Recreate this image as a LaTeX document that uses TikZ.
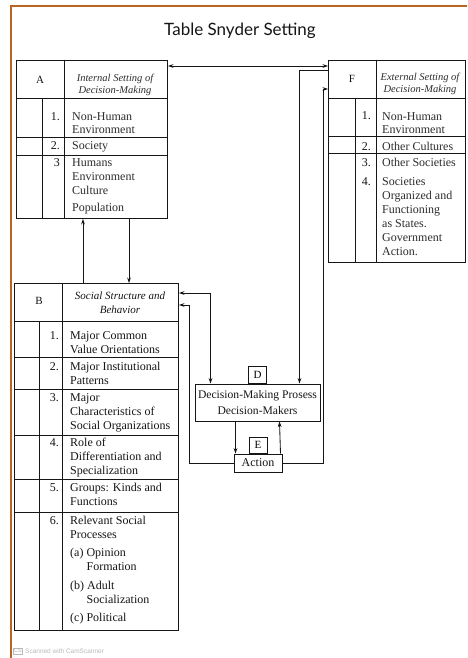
\documentclass[tikz,border=0pt]{standalone}
\usepackage{fontspec}
\setmainfont{Liberation Serif}
\newfontfamily\titlefont{Lato}
\newfontfamily\wmfont{Liberation Sans}
\usetikzlibrary{arrows.meta,calc}
\definecolor{frameorange}{RGB}{190,100,35}
\definecolor{ink}{RGB}{22,22,22}
\definecolor{lightink}{RGB}{45,45,45}
\begin{document}
\begin{tikzpicture}[x=1pt,y=-1pt,
  >={Stealth[length=5.5pt,width=3.8pt]},
  box/.style={draw=ink, line width=1pt, inner sep=0, anchor=north west},
  grid/.style={draw=ink, line width=0.85pt},
  conn/.style={draw=ink, line width=0.85pt},
  body/.style={font=\fontsize{12}{14}\selectfont, inner sep=0, align=left, anchor=north west, text=ink},
  bodyl/.style={body, text=lightink},
  num/.style={font=\fontsize{12}{14}\selectfont, inner sep=0, anchor=base east, text=ink},
  head/.style={font=\fontsize{10.5}{12}\selectfont\itshape, inner sep=0, align=center, text=lightink},
  lab/.style={font=\fontsize{11}{13}\selectfont, inner sep=0, text=ink},
  tag/.style={draw=ink, line width=0.85pt, inner sep=0, anchor=south, font=\fontsize{11}{13}\selectfont},
]
\useasboundingbox (0,0) rectangle (467,658);
\fill[white] (0,0) rectangle (467,658);

% orange frame of the scan
\draw[frameorange, line width=2.2pt] (467,6) -- (11,6) -- (11,658);

% title
\node[font=\titlefont\fontsize{17}{19}\selectfont, text=ink] (title) at (240,31) {Table Snyder Setting};

% ---------- Box A ----------
\node[box, minimum width=151pt, minimum height=158pt] (A) at (16,60) {};
\draw[grid] (16,98) -- (167,98);
\draw[grid] (16,137) -- (167,137);
\draw[grid] (16,155) -- (167,155);
\draw[grid] (64,60) -- (64,218);
\draw[grid] (42,98) -- (42,218);
\node[lab] (Alab) at (40,80) {A};
\node[head] (Ahead) at (115,84.5) {Internal Setting of\\Decision-Making};
\node[num] (An1) at (60,120.5) {1.};
\node[num] (An2) at (60,149.5) {2.};
\node[num] (An3) at (60,166.5) {3};
\node[bodyl] (At1) at (72,120.5-9.8) {\strut Non-Human\\[-1pt]Environment};
\node[bodyl] (At2) at (72,149.5-9.8) {\strut Society};
\node[bodyl] (At3) at (72,166.5-9.8) {\strut Humans\\Environment\\Culture\\[3pt]Population};

% ---------- Box F ----------
\node[box, minimum width=137pt, minimum height=202pt] (F) at (328,60) {};
\draw[grid] (328,98) -- (465,98);
\draw[grid] (328,136) -- (465,136);
\draw[grid] (328,153) -- (465,153);
\draw[grid] (376,60) -- (376,262);
\draw[grid] (355,98) -- (355,262);
\node[lab] (Flab) at (352,79) {F};
\node[head] (Fhead) at (420,83.5) {External Setting of\\Decision-Making};
\node[num] (Fn1) at (371,120) {1.};
\node[num] (Fn2) at (371,150.5) {2.};
\node[num] (Fn3) at (371,166.5) {3.};
\node[num] (Fn4) at (371,185.5) {4.};
\node[bodyl] (Ft1) at (382,120-9.8) {\strut Non-Human\\[-1pt]Environment};
\node[bodyl] (Ft2) at (382,150.5-9.8) {\strut Other Cultures};
\node[bodyl] (Ft3) at (382,166.5-9.8) {\strut Other Societies\\[5pt]Societies\\Organized and\\Functioning\\as States.\\Government\\Action.};

% ---------- Box B ----------
\node[box, minimum width=164pt, minimum height=347pt] (B) at (14,283) {};
\draw[grid] (14,321) -- (178,321);
\draw[grid] (14,357) -- (178,357);
\draw[grid] (14,389) -- (178,389);
\draw[grid] (14,435) -- (178,435);
\draw[grid] (14,479) -- (178,479);
\draw[grid] (14,512) -- (178,512);
\draw[grid] (62,283) -- (62,630);
\draw[grid] (39,321) -- (39,630);
\node[lab] (Blab) at (39,301) {B};
\node[head, font=\fontsize{11}{14}\selectfont\itshape, text=ink] (Bhead) at (120,303) {Social Structure and\\Behavior};
\node[num] (Bn1) at (59,339.5) {1.};
\node[num] (Bn2) at (59,370.5) {2.};
\node[num] (Bn3) at (59,401.5) {3.};
\node[num] (Bn4) at (59,446.5) {4.};
\node[num] (Bn5) at (59,491.5) {5.};
\node[num] (Bn6) at (59,524.5) {6.};
\node[body] (Bt1) at (70,339.5-9.8) {\strut Major Common\\Value Orientations};
\node[body] (Bt2) at (70,370.5-9.8) {\strut Major Institutional\\Patterns};
\node[body] (Bt3) at (70,401.5-9.8) {\strut Major\\Characteristics of\\Social Organizations};
\node[body] (Bt4) at (70,446.5-9.8) {\strut Role of\\Differentiation and\\Specialization};
\node[body] (Bt5) at (70,491.5-9.8) {\strut Groups: Kinds and\\Functions};
\node[body] (Bt6) at (70,524.5-9.8) {\strut Relevant Social\\Processes\\[4pt](a) Opinion\\\hspace*{16.5pt}Formation\\[5pt](b) Adult\\\hspace*{16.5pt}Socialization\\[4pt](c) Political};

% ---------- D and E ----------
\node[draw=ink, line width=1pt, minimum width=125pt, minimum height=37pt, inner sep=0, align=center,
      font=\fontsize{11.6}{15.5}\selectfont, text=ink] (D) at (257.5,402.5) {Decision-Making Prosess\\Decision-Makers};
\node[tag, minimum width=18pt, minimum height=17pt] (Dlab) at (D.north) {D};
\node[draw=ink, line width=1pt, minimum width=48pt, minimum height=18pt, inner sep=0,
      font=\fontsize{12}{14}\selectfont, text=ink] (E) at (258,463) {Action};
\node[tag, minimum width=18pt, minimum height=16pt] (Elab) at (E.north) {E};

% ---------- connectors ----------
\draw[conn, <->] ([yshift=-6pt]A.north east) -- ([yshift=-6pt]F.north west);
\draw[conn, ->] ([yshift=-10pt]F.north west) -| ([xshift=105pt]D.north west);
\draw[conn, ->] (E.east) -| ([xshift=-5pt,yshift=-29pt]F.north west) -- ([yshift=-29pt]F.north west);
\draw[conn, ->] ([xshift=69pt]B.north west) -- ([xshift=67pt]A.south west);
\draw[conn, ->] ([xshift=113pt]A.south west) -- ([xshift=115pt]B.north west);
\draw[conn, <->] ([yshift=-10pt]B.north east) -| ([xshift=16pt]D.north west);
\draw[conn, ->] (E.west) -| ([xshift=10pt,yshift=-22pt]B.north east) -- ([yshift=-22pt]B.north east);
\draw[conn, ->] ([xshift=41pt]D.south west) -- ([xshift=2pt]E.north west);
\draw[conn, ->] ([xshift=-2pt]E.north east) -- ([xshift=85pt]D.south west);

% ---------- scanner mark ----------
\node[draw=gray!55, line width=0.4pt, inner sep=0.8pt, font=\wmfont\fontsize{5.5}{6}\selectfont, text=gray!60] (cs) at (18,651) {CS};
\node[anchor=west, inner sep=0, font=\wmfont\fontsize{6.5}{7}\selectfont, text=gray!55] (scan) at (25,651) {Scanned with CamScanner};
\end{tikzpicture}
\end{document}
